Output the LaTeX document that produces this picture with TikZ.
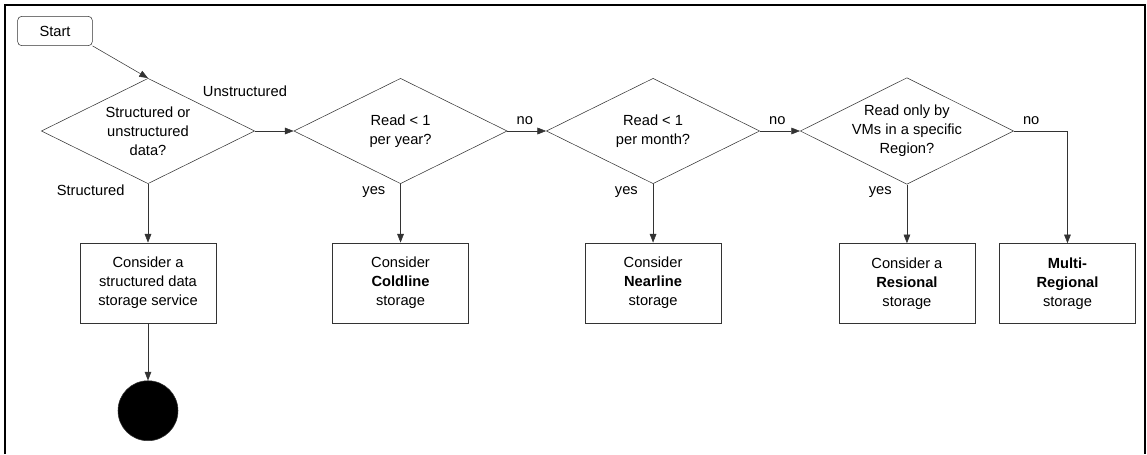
\documentclass[tikz,border=0pt]{standalone}
\usepackage{fontspec}
\setmainfont{Liberation Sans}
\usetikzlibrary{arrows.meta}
\usetikzlibrary{positioning}
\usetikzlibrary{shapes, shapes.geometric}

\begin{document}
\begin{tikzpicture}[x=0.75pt, y=-0.75pt, every node/.style={draw=black!80, text=black, align=center, font=\fontsize{11}{14.2}\selectfont}, decision/.style={diamond, aspect=2, inner sep=0pt, minimum width=160pt, minimum height=79pt}, storebox/.style={rectangle, minimum width=102pt, minimum height=60pt}, lbl/.style={draw=none, pos=0}, yesnote/.style={lbl, xshift=-20pt, yshift=-6pt}, nonote/.style={lbl, xshift=13pt, yshift=8pt}, node distance=44pt, >={Triangle[length=6.5pt, width=5pt]}]

\useasboundingbox (0,0) rectangle (1147,454);
\draw[line width=2pt] (5,454) -- (5,5) -- (1145,5) -- (1145,454);

\node[rounded corners=3pt, minimum width=56pt, minimum height=22pt] (start) at (55,31) {Start};
\node[decision] (sorted) at (148,131) {Structured or\\unstructured\\data?};
\node[decision, right=29pt of sorted] (year) {Read < 1\\per year?};
\node[decision, right=29pt of year] (month) {Read < 1\\per month?};
\node[decision, right=30pt of month] (region) {Read only by\\VMs in a specific\\Region?};

\node[storebox, below=of sorted] (sqlbox) {Consider a\\structured data\\storage service};
\node[storebox, below=of year] (cold) {Consider\\\textbf{Coldline}\\storage};
\node[storebox, below=of month] (near) {Consider\\\textbf{Nearline}\\storage};
\node[storebox, below=of region] (reg) {Consider a\\\textbf{Resional}\\storage};
\node[storebox, right=18pt of reg] (multi) {\textbf{Multi-}\\\textbf{Regional}\\storage};
\node[circle, fill=black, minimum size=45pt, below=43pt of sqlbox] (finish) {};

\draw[->, black!80] (start.south east) -- (sorted.north);
\draw[->, black!80] (sorted.east) -- node[lbl, xshift=-7.5pt, yshift=30pt] {Unstructured} (year.west);
\draw[->, black!80] (sorted.south) -- node[lbl, xshift=-43pt, yshift=-4.5pt] {Structured} (sqlbox.north);
\draw[->, black!80] (sqlbox.south) -- (finish.north);
\draw[->, black!80] (year.east) -- node[nonote] {no} (month.west);
\draw[->, black!80] (year.south) -- node[yesnote] {yes} (cold.north);
\draw[->, black!80] (month.east) -- node[nonote] {no} (region.west);
\draw[->, black!80] (month.south) -- node[yesnote] {yes} (near.north);
\draw[->, black!80] (region.south) -- node[yesnote] {yes} (reg.north);
\draw[->, black!80] (region.east) -| node[nonote] {no} (multi.north);

\end{tikzpicture}
\end{document}
